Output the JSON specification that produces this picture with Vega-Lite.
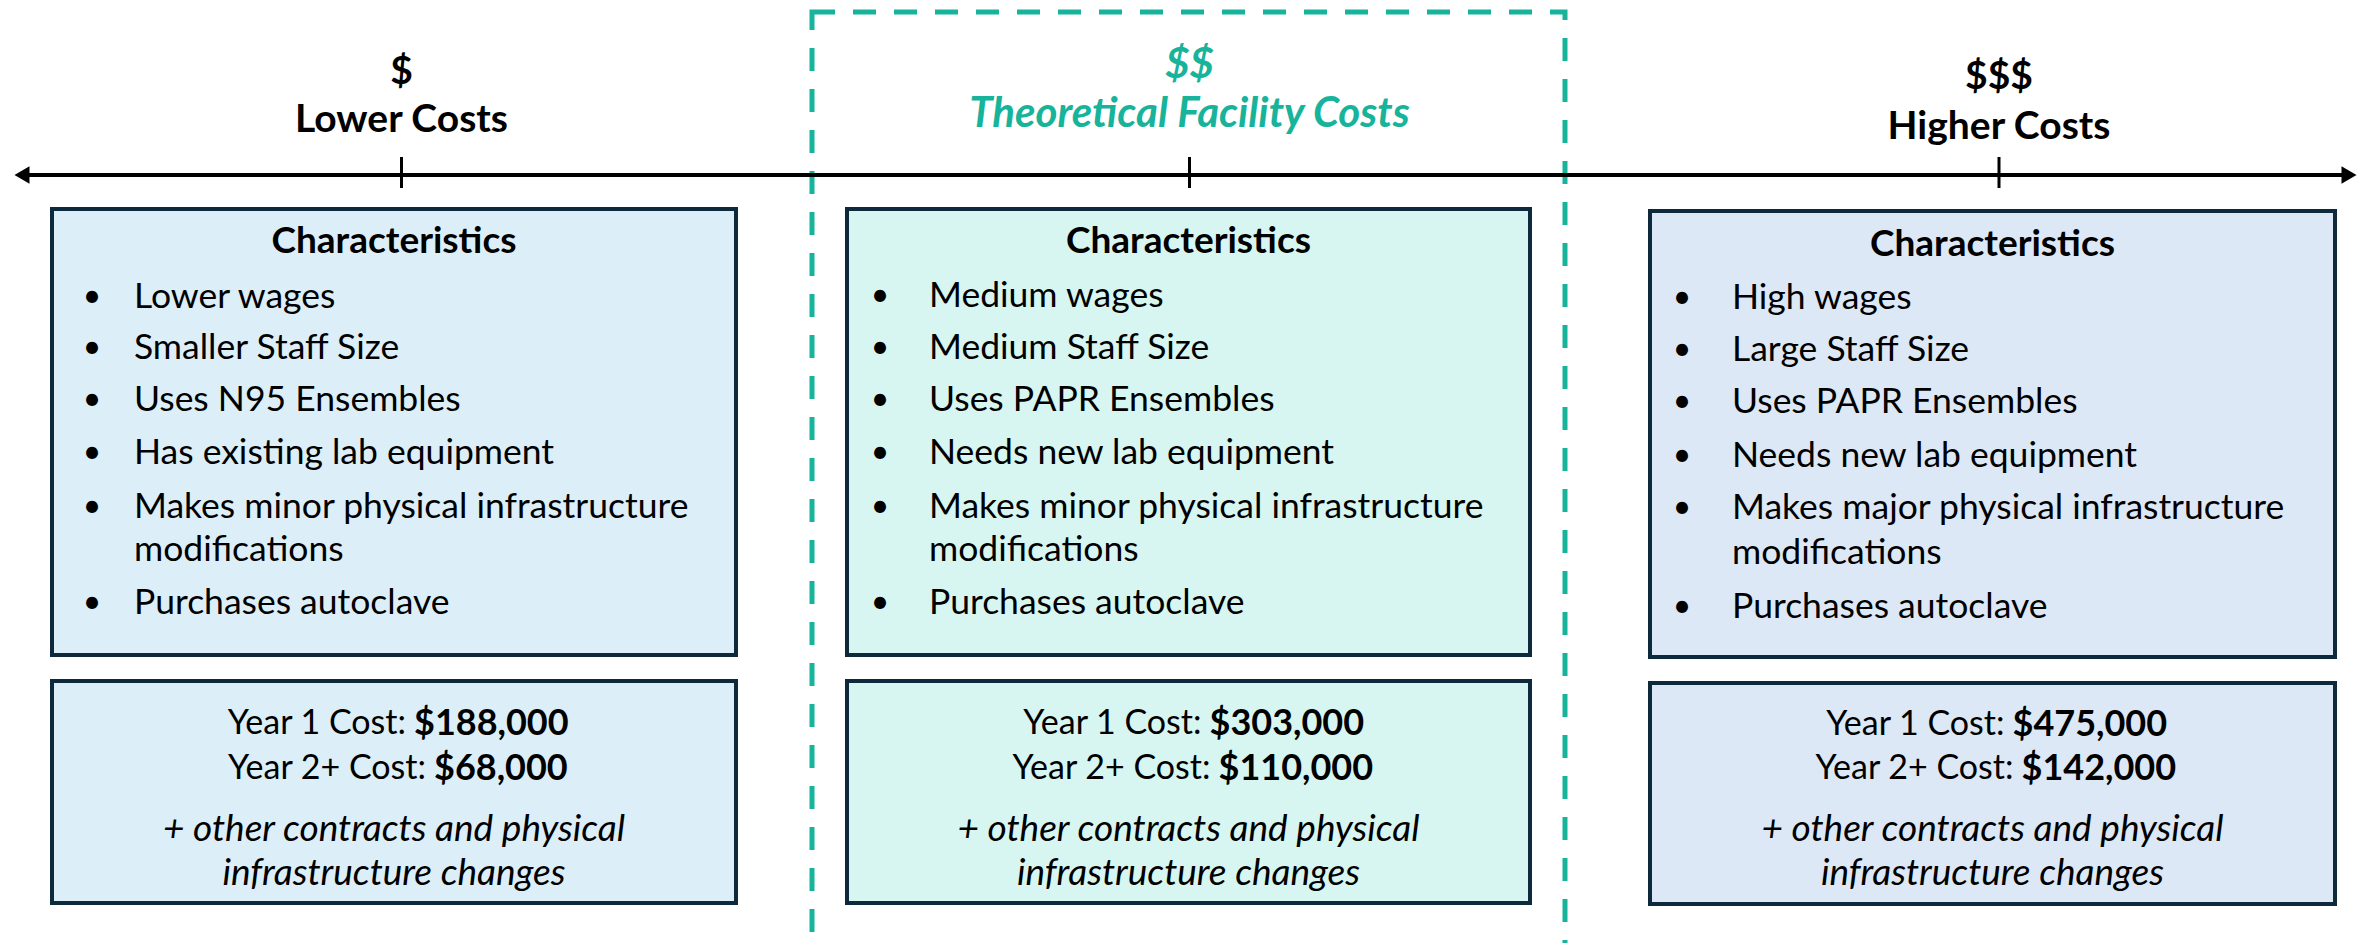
{
  "$schema": "https://vega.github.io/schema/vega-lite/v6.json",
  "width": 2367,
  "height": 943,
  "autosize": {"type": "fit", "contains": "padding"},
  "padding": 0,
  "background": "white",
  "config": {"view": {"stroke": null}, "font": "Lato"},
  "datasets": {
    "boxes": [
      {"tier": "Lower", "part": "characteristics", "x1": 52, "x2": 736, "y1": 209, "y2": 655},
      {"tier": "Lower", "part": "cost", "x1": 52, "x2": 736, "y1": 681, "y2": 903},
      {"tier": "Theoretical", "part": "characteristics", "x1": 847, "x2": 1530, "y1": 209, "y2": 655},
      {"tier": "Theoretical", "part": "cost", "x1": 847, "x2": 1530, "y1": 681, "y2": 903},
      {"tier": "Higher", "part": "characteristics", "x1": 1650, "x2": 2335, "y1": 211, "y2": 657},
      {"tier": "Higher", "part": "cost", "x1": 1650, "x2": 2335, "y1": 683, "y2": 904}
    ],
    "frame": [{"tier": "Theoretical", "x1": 812, "x2": 1565, "y1": 12, "y2": 990}],
    "axisline": [{"x1": 22, "x2": 2347, "y": 175}],
    "heads": [{"dir": "left", "x": 22, "y": 175}, {"dir": "right", "x": 2349, "y": 175}],
    "ticks": [
      {"tier": "Lower", "x": 401.5, "y1": 157, "y2": 188},
      {"tier": "Theoretical", "x": 1189.5, "y1": 157, "y2": 188},
      {"tier": "Higher", "x": 1999, "y1": 157, "y2": 188}
    ],
    "tierlabels": [
      {"tier": "Lower", "x": 401.5, "y": 72, "text": "$"},
      {"tier": "Lower", "x": 401.5, "y": 120, "text": "Lower Costs"},
      {"tier": "Theoretical", "x": 1189.5, "y": 65, "text": "$$"},
      {"tier": "Theoretical", "x": 1189.5, "y": 114, "text": "Theoretical Facility Costs"},
      {"tier": "Higher", "x": 1999, "y": 77, "text": "$$$"},
      {"tier": "Higher", "x": 1999, "y": 127, "text": "Higher Costs"}
    ],
    "headers": [
      {"tier": "Lower", "x": 394, "y": 242, "text": "Characteristics"},
      {"tier": "Theoretical", "x": 1188.5, "y": 242, "text": "Characteristics"},
      {"tier": "Higher", "x": 1992.5, "y": 245, "text": "Characteristics"}
    ],
    "items": [
      {"tier": "Lower", "bx": 92, "x": 134, "y": 297, "bullet": true, "text": "Lower wages"},
      {"tier": "Lower", "bx": 92, "x": 134, "y": 348, "bullet": true, "text": "Smaller Staff Size"},
      {"tier": "Lower", "bx": 92, "x": 134, "y": 400, "bullet": true, "text": "Uses N95 Ensembles"},
      {"tier": "Lower", "bx": 92, "x": 134, "y": 453, "bullet": true, "text": "Has existing lab equipment"},
      {"tier": "Lower", "bx": 92, "x": 134, "y": 507, "bullet": true, "text": "Makes minor physical infrastructure"},
      {"tier": "Lower", "bx": 92, "x": 134, "y": 550, "bullet": false, "text": "modifications"},
      {"tier": "Lower", "bx": 92, "x": 134, "y": 603, "bullet": true, "text": "Purchases autoclave"},
      {"tier": "Theoretical", "bx": 880, "x": 929, "y": 296, "bullet": true, "text": "Medium wages"},
      {"tier": "Theoretical", "bx": 880, "x": 929, "y": 348, "bullet": true, "text": "Medium Staff Size"},
      {"tier": "Theoretical", "bx": 880, "x": 929, "y": 400, "bullet": true, "text": "Uses PAPR Ensembles"},
      {"tier": "Theoretical", "bx": 880, "x": 929, "y": 453, "bullet": true, "text": "Needs new lab equipment"},
      {"tier": "Theoretical", "bx": 880, "x": 929, "y": 507, "bullet": true, "text": "Makes minor physical infrastructure"},
      {"tier": "Theoretical", "bx": 880, "x": 929, "y": 550, "bullet": false, "text": "modifications"},
      {"tier": "Theoretical", "bx": 880, "x": 929, "y": 603, "bullet": true, "text": "Purchases autoclave"},
      {"tier": "Higher", "bx": 1682, "x": 1732, "y": 298, "bullet": true, "text": "High wages"},
      {"tier": "Higher", "bx": 1682, "x": 1732, "y": 350, "bullet": true, "text": "Large Staff Size"},
      {"tier": "Higher", "bx": 1682, "x": 1732, "y": 402, "bullet": true, "text": "Uses PAPR Ensembles"},
      {"tier": "Higher", "bx": 1682, "x": 1732, "y": 456, "bullet": true, "text": "Needs new lab equipment"},
      {"tier": "Higher", "bx": 1682, "x": 1732, "y": 508, "bullet": true, "text": "Makes major physical infrastructure"},
      {"tier": "Higher", "bx": 1682, "x": 1732, "y": 553, "bullet": false, "text": "modifications"},
      {"tier": "Higher", "bx": 1682, "x": 1732, "y": 607, "bullet": true, "text": "Purchases autoclave"}
    ],
    "costs": [
      {"tier": "Lower", "x": 410, "y": 724, "label": "Year 1 Cost:", "value": "$188,000"},
      {"tier": "Lower", "x": 430, "y": 769, "label": "Year 2+ Cost:", "value": "$68,000"},
      {"tier": "Theoretical", "x": 1205.5, "y": 724, "label": "Year 1 Cost:", "value": "$303,000"},
      {"tier": "Theoretical", "x": 1214.5, "y": 769, "label": "Year 2+ Cost:", "value": "$110,000"},
      {"tier": "Higher", "x": 2008.5, "y": 725, "label": "Year 1 Cost:", "value": "$475,000"},
      {"tier": "Higher", "x": 2017.5, "y": 769, "label": "Year 2+ Cost:", "value": "$142,000"}
    ],
    "notes": [
      {"tier": "Lower", "x": 394, "y": 830, "text": "+ other contracts and physical"},
      {"tier": "Lower", "x": 394, "y": 874, "text": "infrastructure changes"},
      {"tier": "Theoretical", "x": 1188.5, "y": 830, "text": "+ other contracts and physical"},
      {"tier": "Theoretical", "x": 1188.5, "y": 874, "text": "infrastructure changes"},
      {"tier": "Higher", "x": 1992.5, "y": 830, "text": "+ other contracts and physical"},
      {"tier": "Higher", "x": 1992.5, "y": 874, "text": "infrastructure changes"}
    ]
  },
  "layer": [
    {
      "data": {"name": "boxes"},
      "mark": {"type": "rect", "stroke": "#0D2A3C", "strokeWidth": 4},
      "encoding": {
        "x": {"field": "x1", "type": "quantitative", "scale": {"domain": [0, 2367], "nice": false, "zero": false}, "axis": null},
        "x2": {"field": "x2"},
        "y": {"field": "y1", "type": "quantitative", "scale": {"domain": [0, 943], "nice": false, "zero": false, "reverse": true}, "axis": null},
        "y2": {"field": "y2"},
        "color": {"field": "tier", "type": "nominal", "scale": {"domain": ["Lower", "Theoretical", "Higher"], "range": ["#DCEEF8", "#D7F6F1", "#DCE8F5"]}, "legend": null}
      }
    },
    {
      "data": {"name": "frame"},
      "mark": {"type": "rect", "filled": false, "color": "#17B39B", "strokeWidth": 5, "strokeDash": [23, 18], "clip": true},
      "encoding": {
        "x": {"field": "x1", "type": "quantitative"},
        "x2": {"field": "x2"},
        "y": {"field": "y1", "type": "quantitative"},
        "y2": {"field": "y2"}
      }
    },
    {
      "data": {"name": "axisline"},
      "mark": {"type": "rule", "color": "black", "strokeWidth": 4},
      "encoding": {
        "x": {"field": "x1", "type": "quantitative"},
        "x2": {"field": "x2"},
        "y": {"field": "y", "type": "quantitative"}
      }
    },
    {
      "data": {"name": "heads"},
      "mark": {"type": "point", "filled": true, "color": "black", "opacity": 1, "size": 300},
      "encoding": {
        "x": {"field": "x", "type": "quantitative"},
        "y": {"field": "y", "type": "quantitative"},
        "shape": {"field": "dir", "type": "nominal", "scale": {"domain": ["left", "right"], "range": ["triangle-left", "triangle-right"]}, "legend": null}
      }
    },
    {
      "data": {"name": "ticks"},
      "mark": {"type": "rule", "color": "black", "strokeWidth": 3},
      "encoding": {
        "x": {"field": "x", "type": "quantitative"},
        "y": {"field": "y1", "type": "quantitative"},
        "y2": {"field": "y2"}
      }
    },
    {
      "data": {"name": "tierlabels"},
      "transform": [{"filter": "datum.tier !== 'Theoretical'"}],
      "mark": {"type": "text", "font": "Lato", "fontWeight": "bold", "fontSize": 39, "color": "black", "align": "center", "baseline": "middle"},
      "encoding": {
        "x": {"field": "x", "type": "quantitative"},
        "y": {"field": "y", "type": "quantitative"},
        "text": {"field": "text"}
      }
    },
    {
      "data": {"name": "tierlabels"},
      "transform": [{"filter": "datum.tier === 'Theoretical'"}],
      "mark": {"type": "text", "font": "Lato", "fontWeight": "bold", "fontStyle": "italic", "fontSize": 42, "color": "#17B39B", "align": "center", "baseline": "middle"},
      "encoding": {
        "x": {"field": "x", "type": "quantitative"},
        "y": {"field": "y", "type": "quantitative"},
        "text": {"field": "text"}
      }
    },
    {
      "data": {"name": "headers"},
      "mark": {"type": "text", "font": "Lato", "fontWeight": "bold", "fontSize": 37, "color": "black", "align": "center", "baseline": "middle"},
      "encoding": {
        "x": {"field": "x", "type": "quantitative"},
        "y": {"field": "y", "type": "quantitative"},
        "text": {"field": "text"}
      }
    },
    {
      "data": {"name": "items"},
      "transform": [{"filter": "datum.bullet"}],
      "mark": {"type": "text", "text": "•", "font": "Lato", "fontSize": 32, "color": "black", "align": "center", "baseline": "middle"},
      "encoding": {
        "x": {"field": "bx", "type": "quantitative"},
        "y": {"field": "y", "type": "quantitative"}
      }
    },
    {
      "data": {"name": "items"},
      "mark": {"type": "text", "font": "Lato", "fontSize": 35.5, "color": "black", "align": "left", "baseline": "middle"},
      "encoding": {
        "x": {"field": "x", "type": "quantitative"},
        "y": {"field": "y", "type": "quantitative"},
        "text": {"field": "text"}
      }
    },
    {
      "data": {"name": "costs"},
      "mark": {"type": "text", "font": "Lato", "fontSize": 34, "color": "black", "align": "right", "baseline": "middle", "dx": -4},
      "encoding": {
        "x": {"field": "x", "type": "quantitative"},
        "y": {"field": "y", "type": "quantitative"},
        "text": {"field": "label"}
      }
    },
    {
      "data": {"name": "costs"},
      "mark": {"type": "text", "font": "Lato", "fontWeight": "bold", "fontSize": 36, "color": "black", "align": "left", "baseline": "middle", "dx": 4},
      "encoding": {
        "x": {"field": "x", "type": "quantitative"},
        "y": {"field": "y", "type": "quantitative"},
        "text": {"field": "value"}
      }
    },
    {
      "data": {"name": "notes"},
      "mark": {"type": "text", "font": "Lato", "fontStyle": "italic", "fontSize": 37, "color": "black", "align": "center", "baseline": "middle"},
      "encoding": {
        "x": {"field": "x", "type": "quantitative"},
        "y": {"field": "y", "type": "quantitative"},
        "text": {"field": "text"}
      }
    }
  ]
}
